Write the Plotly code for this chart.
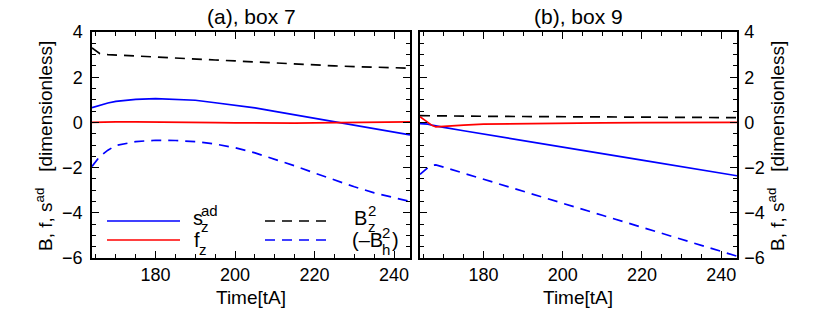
import plotly.graph_objects as go

W, H = 830, 323

# ---- data: panel (a), box 7 ----
t_a = [164, 166, 168, 170, 175, 180, 185, 190, 195, 200, 205, 210, 215, 220, 225, 230, 235, 240, 244]
sz_a = [0.65, 0.76, 0.86, 0.93, 1.02, 1.05, 1.03, 0.98, 0.87, 0.76, 0.64, 0.49, 0.34, 0.19, 0.04, -0.11, -0.27, -0.42, -0.55]
fz_a = [0.0, 0.01, 0.02, 0.02, 0.02, 0.02, 0.01, 0.0, -0.01, -0.02, -0.03, -0.04, -0.03, -0.02, -0.01, 0.0, 0.01, 0.02, 0.02]
bz2_a = [3.3, 3.04, 3.0, 2.98, 2.94, 2.89, 2.85, 2.8, 2.76, 2.72, 2.67, 2.62, 2.58, 2.54, 2.5, 2.47, 2.44, 2.42, 2.4]
bh2_a = [-1.95, -1.5, -1.23, -1.02, -0.85, -0.79, -0.8, -0.85, -0.96, -1.12, -1.35, -1.63, -1.92, -2.24, -2.55, -2.85, -3.12, -3.33, -3.5]

# ---- data: panel (b), box 9 ----
t_b = [164, 165, 166, 167, 168, 170, 175, 180, 190, 200, 210, 220, 230, 240, 244]
sz_b = [-0.05, -0.06, -0.08, -0.12, -0.16, -0.22, -0.37, -0.51, -0.8, -1.09, -1.38, -1.67, -1.96, -2.24, -2.36]
fz_b = [0.25, 0.12, -0.02, -0.13, -0.2, -0.17, -0.12, -0.08, -0.05, -0.03, -0.02, -0.01, 0.0, 0.0, 0.0]
bz2_b = [0.3, 0.3, 0.29, 0.29, 0.29, 0.28, 0.28, 0.27, 0.26, 0.25, 0.24, 0.23, 0.22, 0.21, 0.21]
bh2_b = [-2.3, -2.15, -2.0, -1.9, -1.88, -1.98, -2.25, -2.52, -3.05, -3.58, -4.11, -4.64, -5.17, -5.7, -5.92]

x_ticks = [180, 200, 220, 240]
y_ticks = [-6, -4, -2, 0, 2, 4]
y_ticktext = ["\u22126", "\u22124", "\u22122", "0", "2", "4"]
panel_titles = ["(a), box 7", "(b), box 9"]

FONT = "Liberation Sans, Arial, Helvetica, sans-serif"
BLUE, RED, BLACK = "#0000ff", "#ff0000", "#000000"
DASH = "10px,7px"
LW = 1.7


def px(x):
    return x / W


def py(y):
    return 1 - y / H


fig = go.Figure()

series = [
    (sz_a, fz_a, bz2_a, bh2_a, t_a, "x", "y"),
    (sz_b, fz_b, bz2_b, bh2_b, t_b, "x2", "y2"),
]
for sz, fz, bz, bh, t, xa, ya in series:
    fig.add_trace(go.Scatter(x=t, y=bz, mode="lines", line=dict(color=BLACK, width=LW, dash=DASH),
                             xaxis=xa, yaxis=ya, showlegend=False, name="B_z^2"))
    fig.add_trace(go.Scatter(x=t, y=bh, mode="lines", line=dict(color=BLUE, width=LW, dash=DASH),
                             xaxis=xa, yaxis=ya, showlegend=False, name="(-B_h^2)"))
    fig.add_trace(go.Scatter(x=t, y=sz, mode="lines", line=dict(color=BLUE, width=LW),
                             xaxis=xa, yaxis=ya, showlegend=False, name="s_z^ad"))
    fig.add_trace(go.Scatter(x=t, y=fz, mode="lines", line=dict(color=RED, width=LW),
                             xaxis=xa, yaxis=ya, showlegend=False, name="f_z"))

tickfont = dict(family=FONT, size=18, color="black")
common_x = dict(range=[164, 244], tickvals=x_ticks, ticks="inside", ticklen=7, tickwidth=1.2,
                tickcolor="black", showline=True, linecolor="black", linewidth=1.5, mirror="allticks",
                showgrid=False, zeroline=False, tickfont=tickfont, automargin=False,
                minor=dict(ticks="inside", dtick=5, ticklen=4, tickwidth=1.2, tickcolor="black", showgrid=False))
common_y = dict(range=[-6, 4], tickvals=y_ticks, ticktext=y_ticktext, ticks="inside", ticklen=7, tickwidth=1.2,
                tickcolor="black", showline=True, linecolor="black", linewidth=1.5, mirror="allticks",
                showgrid=False, zeroline=False, tickfont=tickfont, automargin=False,
                minor=dict(ticks="inside", dtick=0.5, ticklen=4, tickwidth=1.2, tickcolor="black", showgrid=False))

ydom = [py(258), py(32)]
fig.update_layout(
    template="none",
    width=W, height=H, margin=dict(l=0, r=0, t=0, b=0, autoexpand=False),
    paper_bgcolor="white", plot_bgcolor="white",
    font=dict(family=FONT, color="black"),
    hovermode=False,
    xaxis=dict(domain=[px(92), px(410)], anchor="y", **common_x),
    yaxis=dict(domain=ydom, anchor="x", side="left", ticklabelstandoff=4, **common_y),
    xaxis2=dict(domain=[px(420), px(737)], anchor="y2", **common_x),
    yaxis2=dict(domain=ydom, anchor="x2", side="right", ticklabelstandoff=2, **common_y),
)

ann = []
# panel titles
for title, cx in zip(panel_titles, [251, 578]):
    ann.append(dict(text=title, x=px(cx), y=py(16), xref="paper", yref="paper", showarrow=False,
                    xanchor="center", yanchor="middle", font=dict(family=FONT, size=21)))
# x-axis titles
for cx in [251, 578]:
    ann.append(dict(text="Time[tA]", x=px(cx), y=py(297), xref="paper", yref="paper", showarrow=False,
                    xanchor="center", yanchor="middle", font=dict(family=FONT, size=19)))
# y-axis titles
ytitle = "B, f, s<sup>ad</sup>\u00a0\u00a0\u00a0[dimensionless]"
for cx in [44, 776]:
    ann.append(dict(text=ytitle, x=px(cx), y=py(146), xref="paper", yref="paper", showarrow=False,
                    xanchor="center", yanchor="middle", textangle=-90, font=dict(family=FONT, size=19)))

# legend (drawn inside panel a)
shapes = []
leg = [
    (107, 180, 221, BLUE, None),
    (107, 180, 240, RED, None),
    (265, 330, 221, BLACK, "dash"),
    (265, 330, 240, BLUE, "dash"),
]
for x0, x1, yy, col, d in leg:
    shapes.append(dict(type="line", xref="paper", yref="paper", x0=px(x0), x1=px(x1), y0=py(yy), y1=py(yy),
                       line=dict(color=col, width=LW, dash=DASH if d else "solid")))

big = dict(family=FONT, size=20)
small = dict(family=FONT, size=15)


def txt(s, x, y, f):
    ann.append(dict(text=s, x=px(x), y=py(y), xref="paper", yref="paper", showarrow=False,
                    xanchor="left", yanchor="middle", font=f))


txt("s", 191, 218, big)
txt("ad", 199, 210, small)
txt("z", 199, 226, small)
txt("f", 192, 240, big)
txt("z", 197, 249, small)
txt("B", 352, 218, big)
txt("2", 366, 210, small)
txt("z", 366, 226, small)
txt("(\u2013B", 350, 240, big)
txt("2", 380, 232, small)
txt("h", 380, 249, small)
txt(")", 390, 240, big)

fig.update_layout(annotations=ann, shapes=shapes)
fig.write_html("out.html", config={"displayModeBar": False},
               post_script="document.body.style.margin='0px';document.body.style.overflow='hidden';")
